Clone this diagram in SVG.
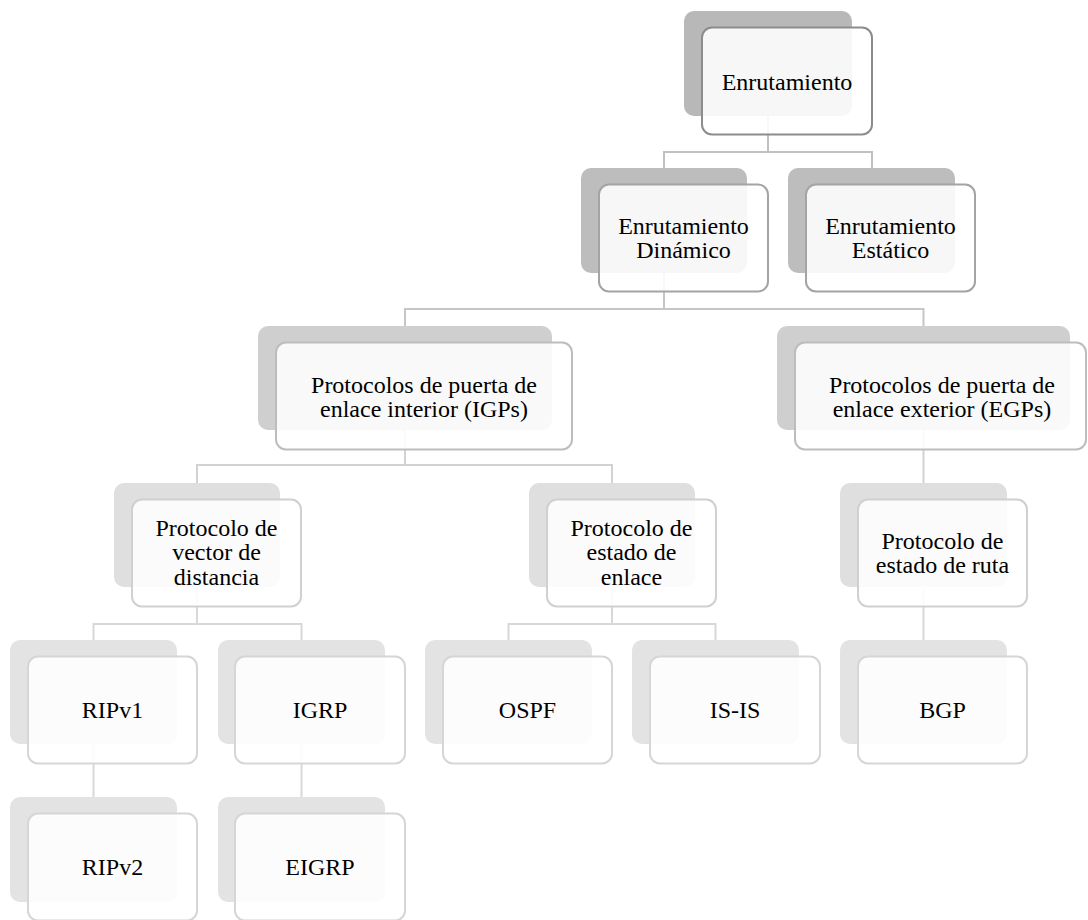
<svg xmlns="http://www.w3.org/2000/svg" width="1088" height="920" viewBox="0 0 1088 920">
  <style>
    .bg { fill: #ffffff; }
    .back0 { fill: #b8b8b8; }
    .back1 { fill: #bdbdbd; }
    .back2 { fill: #cfcfcf; }
    .back3 { fill: #dfdfdf; }
    .back4 { fill: #e3e3e3; }
    .front { fill: #ffffff; fill-opacity: 0.88; stroke-width: 2; }
    .f0 { stroke: #8c8c8c; }
    .f1 { stroke: #a4a4a4; }
    .f2 { stroke: #bdbdbd; }
    .f3 { stroke: #d0d0d0; }
    .f4 { stroke: #d6d6d6; }
    .link { fill: none; stroke-width: 2; }
    .l0 { stroke: #c0c0c0; }
    .l1 { stroke: #c6c6c6; }
    .l2 { stroke: #d2d2d2; }
    .l3 { stroke: #d8d8d8; }
    text { font-family: "Liberation Serif", "Times New Roman", serif; font-size: 24px; fill: #000000; text-anchor: middle; }
  </style>

  <rect class="bg" x="0" y="0" width="1088" height="920"/>

  <!-- connectors -->
  <g id="connectors">
    <path class="link l0" d="M768 116 V152 M664 168 V152 H872 V168"/>
    <path class="link l1" d="M664 273 V309 M405 326 V309 H923.5 V326"/>
    <path class="link l2" d="M405 430 V465 M197 483 V465 H612 V483"/>
    <path class="link l2" d="M923.5 430 V483"/>
    <path class="link l3" d="M197 587 V624 M93.5 640 V624 H301.5 V640"/>
    <path class="link l3" d="M612 587 V624 M508.5 640 V624 H715.5 V640"/>
    <path class="link l3" d="M923.5 587 V640"/>
    <path class="link l3" d="M93.5 744 V797"/>
    <path class="link l3" d="M301.5 744 V797"/>
  </g>

  <!-- level 0 -->
  <g id="node-enrutamiento">
    <rect class="back0" x="684" y="11" width="168" height="105" rx="10"/>
    <rect class="front f0" x="702" y="27.5" width="170" height="107" rx="10"/>
    <text x="787" y="89.5">Enrutamiento</text>
  </g>

  <!-- level 1 -->
  <g id="node-dinamico">
    <rect class="back1" x="581" y="168" width="166" height="105" rx="10"/>
    <rect class="front f1" x="599" y="184.5" width="169" height="107" rx="10"/>
    <text x="683.5" y="234">Enrutamiento</text>
    <text x="683.5" y="258">Dinámico</text>
  </g>
  <g id="node-estatico">
    <rect class="back1" x="788" y="168" width="167" height="105" rx="10"/>
    <rect class="front f1" x="806" y="184.5" width="169" height="107" rx="10"/>
    <text x="890.5" y="234">Enrutamiento</text>
    <text x="890.5" y="258">Estático</text>
  </g>

  <!-- level 2 -->
  <g id="node-igps">
    <rect class="back2" x="258" y="326" width="294" height="104" rx="10"/>
    <rect class="front f2" x="276" y="342.5" width="296" height="107" rx="10"/>
    <text x="424" y="392.5">Protocolos de puerta de</text>
    <text x="424" y="417">enlace interior (IGPs)</text>
  </g>
  <g id="node-egps">
    <rect class="back2" x="777" y="326" width="293" height="104" rx="10"/>
    <rect class="front f2" x="795" y="342.5" width="291" height="107" rx="10"/>
    <text x="942" y="392.5">Protocolos de puerta de</text>
    <text x="942" y="417">enlace exterior (EGPs)</text>
  </g>

  <!-- level 3 -->
  <g id="node-vector">
    <rect class="back3" x="114" y="483" width="166" height="104" rx="10"/>
    <rect class="front f3" x="132" y="499.5" width="169" height="107" rx="10"/>
    <text x="216.5" y="535.5">Protocolo de</text>
    <text x="216.5" y="560">vector de</text>
    <text x="216.5" y="584.5">distancia</text>
  </g>
  <g id="node-enlace">
    <rect class="back3" x="529" y="483" width="166" height="104" rx="10"/>
    <rect class="front f3" x="547" y="499.5" width="169" height="107" rx="10"/>
    <text x="631.5" y="535.5">Protocolo de</text>
    <text x="631.5" y="560">estado de</text>
    <text x="631.5" y="584.5">enlace</text>
  </g>
  <g id="node-ruta">
    <rect class="back3" x="840" y="483" width="167" height="104" rx="10"/>
    <rect class="front f3" x="858" y="499.5" width="169" height="107" rx="10"/>
    <text x="942.5" y="548.5">Protocolo de</text>
    <text x="942.5" y="572.5">estado de ruta</text>
  </g>

  <!-- level 4 -->
  <g id="node-ripv1">
    <rect class="back4" x="10" y="640" width="167" height="104" rx="10"/>
    <rect class="front f4" x="28" y="656.5" width="169" height="107" rx="10"/>
    <text x="112.5" y="718">RIPv1</text>
  </g>
  <g id="node-igrp">
    <rect class="back4" x="218" y="640" width="167" height="104" rx="10"/>
    <rect class="front f4" x="235" y="656.5" width="170" height="107" rx="10"/>
    <text x="320" y="718">IGRP</text>
  </g>
  <g id="node-ospf">
    <rect class="back4" x="425" y="640" width="167" height="104" rx="10"/>
    <rect class="front f4" x="443" y="656.5" width="169" height="107" rx="10"/>
    <text x="527.5" y="718">OSPF</text>
  </g>
  <g id="node-isis">
    <rect class="back4" x="632" y="640" width="167" height="104" rx="10"/>
    <rect class="front f4" x="650" y="656.5" width="170" height="107" rx="10"/>
    <text x="735" y="718">IS-IS</text>
  </g>
  <g id="node-bgp">
    <rect class="back4" x="840" y="640" width="167" height="104" rx="10"/>
    <rect class="front f4" x="858" y="656.5" width="169" height="107" rx="10"/>
    <text x="942.5" y="718">BGP</text>
  </g>

  <!-- level 5 -->
  <g id="node-ripv2">
    <rect class="back4" x="10" y="797" width="167" height="105" rx="10"/>
    <rect class="front f4" x="28" y="813.5" width="169" height="107" rx="10"/>
    <text x="112.5" y="875">RIPv2</text>
  </g>
  <g id="node-eigrp">
    <rect class="back4" x="218" y="797" width="167" height="105" rx="10"/>
    <rect class="front f4" x="235" y="813.5" width="170" height="107" rx="10"/>
    <text x="320" y="875">EIGRP</text>
  </g>
</svg>
